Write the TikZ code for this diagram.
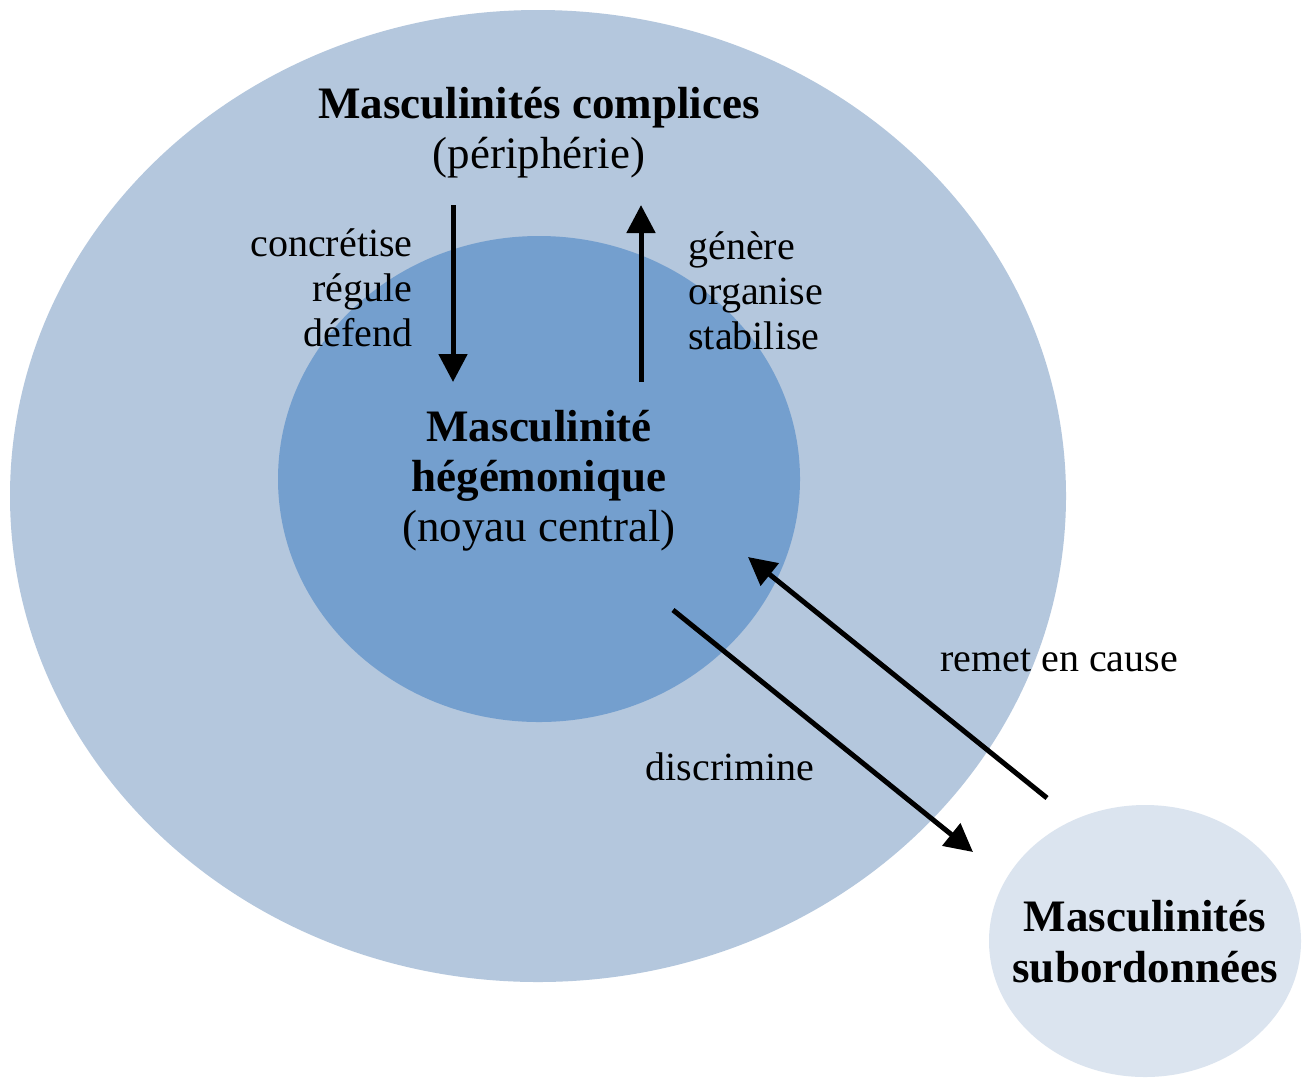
\documentclass[tikz,border=0pt]{standalone}
\usepackage{fontspec}
\setmainfont{Liberation Serif}
\usetikzlibrary{shapes.geometric,arrows.meta}
\definecolor{outerblue}{RGB}{180,199,221}
\definecolor{innerblue}{RGB}{116,159,206}
\definecolor{paleblue}{RGB}{219,228,239}
\tikzset{
  blob/.style={ellipse, inner sep=0pt, draw=none},
  bigtxt/.style={inner sep=0pt, align=center, font=\fontsize{22.5}{25}\selectfont},
  lbl/.style={inner sep=0pt, font=\fontsize{20}{22.5}\selectfont},
  arr/.style={line width=2.5pt, -{Triangle[width=14pt,length=14pt]}}
}
\begin{document}
\begin{tikzpicture}[x=0.5pt,y=-0.5pt]
\fill[white] (0,0) rectangle (1304,1077);
\useasboundingbox (0,0) rectangle (1304,1077);
\node[blob, fill=outerblue, minimum width=528pt, minimum height=486pt] (outer) at (538,496) {};
\node[blob, fill=innerblue, minimum width=261pt, minimum height=243pt] (inner) at (539,479) {};
\node[blob, fill=paleblue, minimum width=156pt, minimum height=136pt] (sub) at (1145,941) {};
% texts
\node[bigtxt] (title) at (539,133) {\textbf{Masculinités complices}\\(périphérie)};
\node[bigtxt] (core) at (539,481) {\textbf{Masculinité}\\\textbf{hégémonique}\\(noyau central)};
\node[bigtxt, font=\bfseries\fontsize{22.5}{25.5}\selectfont] (subtxt) at (1145,942) {Masculinités\\subordonnées};
\node[lbl, align=right, anchor=east] (down lbl) at (413,288) {concrétise\\régule\\défend};
\node[lbl, align=left, anchor=west] (up lbl) at (688,291) {génère\\organise\\stabilise};
\node[lbl] (remet) at (1059,660) {remet en cause};
\node[lbl] (discr) at (730,767) {discrimine};
% arrow ends
\coordinate (dA) at (453,205);
\coordinate (dB) at (453,382);
\coordinate (uA) at (641,382);
\coordinate (uB) at (641,205);
\coordinate (xA) at (673,610);
\coordinate (xB) at (973,852);
\coordinate (rA) at (1047,798);
\coordinate (rB) at (748,557);
\draw[arr] (dA) -- (dB);
\draw[arr] (uA) -- (uB);
\draw[arr] (xA) -- (xB);
\draw[arr] (rA) -- (rB);
\end{tikzpicture}
\end{document}
